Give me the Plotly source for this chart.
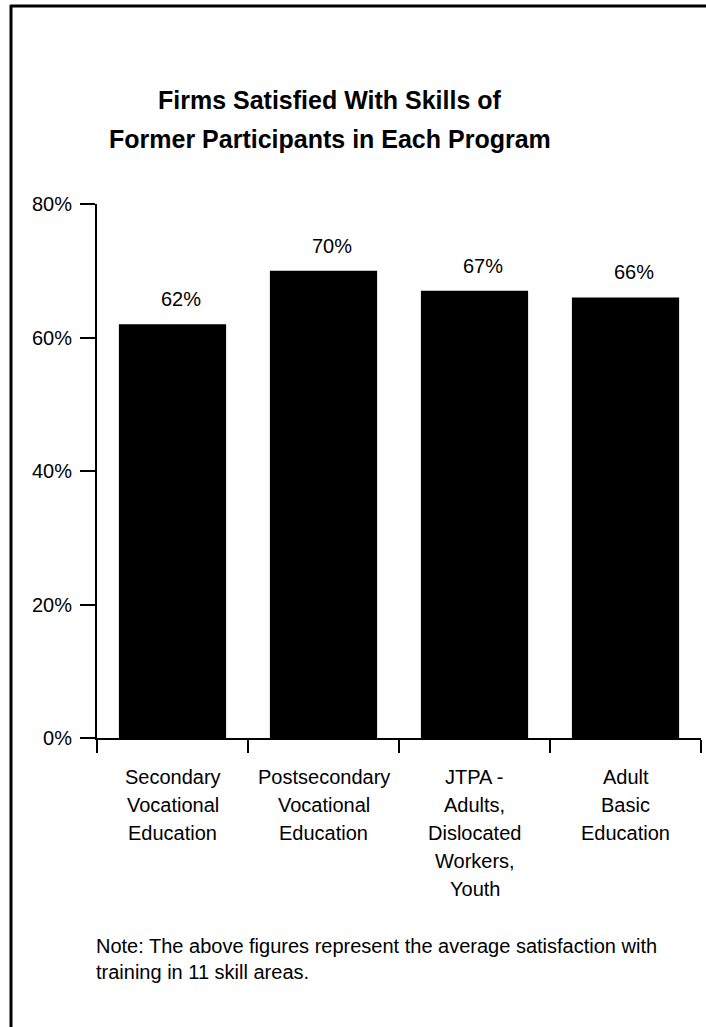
import plotly.graph_objects as go

# ---- data ----
categories = [
    "Secondary<br>Vocational<br>Education",
    "Postsecondary<br>Vocational<br>Education",
    "JTPA -<br>Adults,<br>Dislocated<br>Workers,<br>Youth",
    "Adult<br>Basic<br>Education",
]
satisfied_pct = [62, 70, 67, 66]
y_ticks = [0, 20, 40, 60, 80]
y_tick_labels = ["0%", "20%", "40%", "60%", "80%"]

title_lines = ["Firms Satisfied With Skills of", "Former Participants in Each Program"]
note_lines = [
    "Note: The above figures represent the average satisfaction with",
    "training in 11 skill areas.",
]

# ---- page geometry (pixels) ----
W, H = 706, 1027
PL, PR, PT, PB = 97, 701, 204, 738  # plot area edges

def px(x):
    return (x - PL) / (PR - PL)

def py(y):
    return (PB - y) / (PB - PT)

FONT = "Liberation Sans Narrow, Arial Narrow, Liberation Sans, Arial, sans-serif"
BLACK = "#000000"
TXT = 20

x_idx = list(range(len(categories)))
x_bounds = [i - 0.5 for i in range(len(categories) + 1)]

fig = go.Figure(
    go.Bar(
        x=x_idx,
        y=satisfied_pct,
        width=0.71,
        marker=dict(color=BLACK, line=dict(width=0)),
        hoverinfo="skip",
    )
)

annotations = []

# value labels above bars
for i, v in zip(x_idx, satisfied_pct):
    annotations.append(dict(
        x=i, y=v, xref="x", yref="y", text=f"{v}%", showarrow=False,
        xanchor="center", yanchor="middle", xshift=8, yshift=25,
        font=dict(family=FONT, size=TXT, color=BLACK),
    ))

# category labels, one line at a time
for i, cat in zip(x_idx, categories):
    for k, line in enumerate(cat.split("<br>")):
        annotations.append(dict(
            x=i, y=py(776.5 + 28 * k), xref="x", yref="paper", text=line,
            showarrow=False, xanchor="center", yanchor="middle",
            font=dict(family=FONT, size=TXT, color=BLACK),
        ))

# title
for k, line in enumerate(title_lines):
    annotations.append(dict(
        x=px(330), y=py(100 + 39 * k), xref="paper", yref="paper",
        text=f"<b>{line}</b>", showarrow=False, xanchor="center", yanchor="middle",
        font=dict(family=FONT, size=25, color=BLACK),
    ))

# footnote
for k, line in enumerate(note_lines):
    annotations.append(dict(
        x=px(94), y=py(946 + 26 * k), xref="paper", yref="paper", text=line,
        showarrow=False, xanchor="left", yanchor="middle",
        font=dict(family=FONT, size=TXT, color=BLACK),
    ))

# frame lines on the left and top of the panel
shapes = [
    dict(type="line", xref="paper", yref="paper",
         x0=px(11), x1=px(11), y0=py(5), y1=py(H + 5),
         line=dict(color=BLACK, width=3)),
    dict(type="line", xref="paper", yref="paper",
         x0=px(10), x1=px(W + 5), y0=py(6), y1=py(6),
         line=dict(color=BLACK, width=3)),
]

fig.update_layout(
    width=W, height=H,
    margin=dict(l=PL, r=W - PR, t=PT, b=H - PB, pad=0),
    paper_bgcolor="white", plot_bgcolor="white",
    showlegend=False,
    font=dict(family=FONT, size=TXT, color=BLACK),
    annotations=annotations,
    shapes=shapes,
)

fig.update_xaxes(
    range=[-0.5, 3.5], tickmode="array", tickvals=x_bounds,
    ticktext=[""] * len(x_bounds),
    ticks="outside", ticklen=13, tickwidth=2, tickcolor=BLACK,
    showline=True, linecolor=BLACK, linewidth=2, showgrid=False, zeroline=False,
    fixedrange=True,
)
fig.update_yaxes(
    range=[0, 80], tickmode="array", tickvals=y_ticks, ticktext=y_tick_labels,
    ticks="outside", ticklen=15, tickwidth=2, tickcolor=BLACK,
    ticklabelstandoff=4,
    tickfont=dict(family=FONT, size=TXT, color=BLACK),
    showline=True, linecolor=BLACK, linewidth=2, showgrid=False, zeroline=False,
    fixedrange=True,
)

fig.write_html("out.html", config=dict(displayModeBar=False))
